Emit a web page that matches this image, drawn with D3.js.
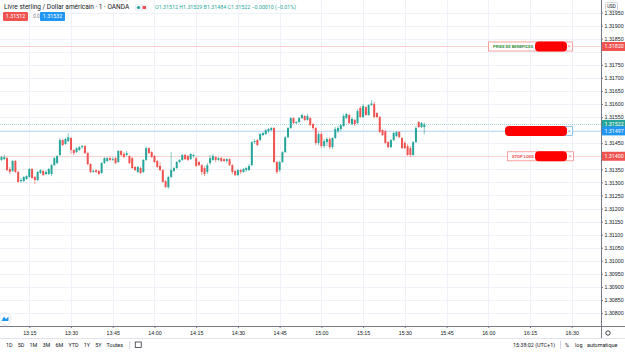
<!DOCTYPE html>
<html>
<head>
<meta charset="utf-8">
<script src="https://cdn.jsdelivr.net/npm/d3@7"></script>
<style>
  body { margin: 0; background: #fff; overflow: hidden; }
  svg { display: block; font-family: Roboto, "Liberation Sans", sans-serif; }
</style>
</head>
<body>
<div id="chart"></div>
<script>
// GBP/USD, 1 minute candles, 13:05 -> 15:37
const firstCandle = "13:05";
const lastCandle = "15:37";

const opens = [1.31386,1.31389,1.31393,1.31351,1.31344,1.31382,1.31340,1.31305,1.31305,1.31313,
  1.31321,1.31351,1.31321,1.31309,1.31336,1.31344,1.31332,1.31332,1.31332,1.31366,
  1.31374,1.31405,1.31462,1.31447,1.31458,1.31470,1.31424,1.31416,1.31424,1.31435,
  1.31439,1.31412,1.31370,1.31340,1.31347,1.31344,1.31336,1.31374,1.31382,1.31393,
  1.31386,1.31393,1.31378,1.31420,1.31409,1.31405,1.31401,1.31393,1.31359,1.31340,
  1.31355,1.31340,1.31386,1.31431,1.31416,1.31401,1.31382,1.31363,1.31347,1.31305,
  1.31282,1.31321,1.31344,1.31355,1.31378,1.31386,1.31405,1.31401,1.31389,1.31401,
  1.31393,1.31378,1.31366,1.31355,1.31340,1.31374,1.31386,1.31397,1.31386,1.31393,
  1.31389,1.31382,1.31389,1.31366,1.31344,1.31328,1.31347,1.31340,1.31347,1.31347,
  1.31366,1.31454,1.31462,1.31462,1.31481,1.31485,1.31496,1.31500,1.31508,1.31378,
  1.31347,1.31378,1.31416,1.31473,1.31508,1.31546,1.31527,1.31531,1.31546,1.31554,
  1.31539,1.31546,1.31523,1.31508,1.31451,1.31485,1.31439,1.31454,1.31466,1.31435,
  1.31470,1.31496,1.31504,1.31516,1.31546,1.31558,1.31523,1.31539,1.31527,1.31585,
  1.31550,1.31588,1.31558,1.31596,1.31600,1.31565,1.31550,1.31500,1.31496,1.31454,
  1.31435,1.31462,1.31477,1.31493,1.31470,1.31451,1.31439,1.31431,1.31405,1.31454,
  1.31531,1.31512,1.31512];
const highs = [1.31401,1.31405,1.31397,1.31359,1.31386,1.31386,1.31344,1.31317,1.31324,1.31328,
  1.31355,1.31355,1.31324,1.31344,1.31351,1.31347,1.31347,1.31355,1.31370,1.31397,
  1.31405,1.31470,1.31466,1.31470,1.31489,1.31473,1.31428,1.31435,1.31439,1.31443,
  1.31443,1.31416,1.31374,1.31351,1.31351,1.31347,1.31378,1.31397,1.31397,1.31397,
  1.31397,1.31397,1.31424,1.31424,1.31416,1.31420,1.31405,1.31397,1.31363,1.31363,
  1.31359,1.31389,1.31439,1.31435,1.31420,1.31405,1.31386,1.31378,1.31351,1.31309,
  1.31324,1.31416,1.31359,1.31382,1.31389,1.31409,1.31409,1.31405,1.31412,1.31409,
  1.31397,1.31382,1.31370,1.31363,1.31374,1.31405,1.31409,1.31401,1.31397,1.31397,
  1.31393,1.31393,1.31393,1.31370,1.31347,1.31351,1.31351,1.31355,1.31359,1.31370,
  1.31458,1.31466,1.31466,1.31489,1.31493,1.31504,1.31508,1.31512,1.31512,1.31382,
  1.31382,1.31420,1.31477,1.31512,1.31550,1.31550,1.31535,1.31550,1.31562,1.31558,
  1.31562,1.31550,1.31527,1.31512,1.31493,1.31493,1.31466,1.31473,1.31473,1.31473,
  1.31512,1.31516,1.31523,1.31562,1.31565,1.31562,1.31550,1.31543,1.31581,1.31592,
  1.31600,1.31592,1.31600,1.31615,1.31608,1.31569,1.31554,1.31504,1.31500,1.31458,
  1.31466,1.31493,1.31496,1.31496,1.31473,1.31458,1.31447,1.31439,1.31458,1.31516,
  1.31535,1.31531,1.31529];
const lows = [1.31382,1.31386,1.31344,1.31332,1.31340,1.31336,1.31298,1.31298,1.31302,1.31309,
  1.31317,1.31313,1.31294,1.31305,1.31332,1.31324,1.31328,1.31328,1.31324,1.31363,
  1.31370,1.31401,1.31439,1.31443,1.31454,1.31409,1.31405,1.31412,1.31420,1.31428,
  1.31409,1.31366,1.31336,1.31336,1.31336,1.31328,1.31332,1.31370,1.31378,1.31382,
  1.31382,1.31370,1.31374,1.31401,1.31393,1.31401,1.31370,1.31351,1.31344,1.31336,
  1.31332,1.31336,1.31382,1.31409,1.31393,1.31374,1.31355,1.31344,1.31298,1.31279,
  1.31275,1.31317,1.31340,1.31351,1.31374,1.31382,1.31386,1.31382,1.31386,1.31393,
  1.31359,1.31363,1.31328,1.31324,1.31332,1.31366,1.31382,1.31378,1.31382,1.31378,
  1.31378,1.31374,1.31363,1.31332,1.31324,1.31324,1.31332,1.31336,1.31340,1.31344,
  1.31363,1.31447,1.31439,1.31458,1.31477,1.31481,1.31489,1.31496,1.31374,1.31332,
  1.31340,1.31374,1.31412,1.31470,1.31504,1.31523,1.31523,1.31527,1.31543,1.31535,
  1.31535,1.31516,1.31500,1.31443,1.31443,1.31431,1.31431,1.31439,1.31428,1.31428,
  1.31466,1.31489,1.31496,1.31512,1.31543,1.31523,1.31519,1.31516,1.31523,1.31546,
  1.31546,1.31554,1.31554,1.31592,1.31546,1.31546,1.31489,1.31477,1.31447,1.31431,
  1.31431,1.31458,1.31473,1.31470,1.31428,1.31428,1.31401,1.31397,1.31401,1.31451,
  1.31508,1.31508,1.31484];
const closes = [1.31397,1.31397,1.31347,1.31340,1.31382,1.31340,1.31302,1.31309,1.31321,1.31324,
  1.31351,1.31317,1.31309,1.31340,1.31347,1.31328,1.31340,1.31351,1.31366,1.31393,
  1.31401,1.31462,1.31443,1.31466,1.31473,1.31424,1.31412,1.31431,1.31435,1.31439,
  1.31412,1.31370,1.31340,1.31344,1.31340,1.31332,1.31374,1.31393,1.31393,1.31386,
  1.31389,1.31374,1.31420,1.31405,1.31397,1.31412,1.31374,1.31355,1.31347,1.31359,
  1.31336,1.31386,1.31431,1.31412,1.31397,1.31378,1.31359,1.31347,1.31302,1.31282,
  1.31321,1.31347,1.31355,1.31378,1.31386,1.31405,1.31389,1.31386,1.31409,1.31405,
  1.31363,1.31366,1.31340,1.31332,1.31366,1.31393,1.31401,1.31386,1.31393,1.31382,
  1.31382,1.31389,1.31366,1.31340,1.31328,1.31347,1.31340,1.31351,1.31355,1.31363,
  1.31454,1.31458,1.31443,1.31485,1.31489,1.31500,1.31504,1.31508,1.31378,1.31340,
  1.31378,1.31416,1.31473,1.31508,1.31546,1.31527,1.31531,1.31546,1.31558,1.31539,
  1.31554,1.31519,1.31508,1.31451,1.31485,1.31439,1.31458,1.31466,1.31435,1.31470,
  1.31504,1.31508,1.31519,1.31554,1.31562,1.31527,1.31543,1.31523,1.31573,1.31550,
  1.31592,1.31558,1.31596,1.31602,1.31550,1.31550,1.31493,1.31481,1.31451,1.31435,
  1.31462,1.31489,1.31493,1.31473,1.31431,1.31431,1.31405,1.31405,1.31454,1.31508,
  1.31512,1.31527,1.31522];

const priceTicks = [1.3080,1.3085,1.3090,1.3095,1.3100,1.3105,1.3110,1.3115,1.3120,1.3125,1.3130,
  1.3135,1.3140,1.3145,1.3150,1.3155,1.3160,1.3165,1.3170,1.3175,1.3180,1.3185,1.3190,1.3195];
const timeTicks = ["13:15","13:30","13:45","14:00","14:15","14:30","14:45","15:00","15:15","15:30",
  "15:45","16:00","16:15","16:30"];

// order / price levels
const takeProfit = 1.31820;
const entryPrice = 1.31497;
const stopLoss = 1.31400;
const lastPrice = 1.31522;
const bidPrice = "1.31512", askPrice = "1.31532", spread = "0.0";
const symbolTitle = "Livre sterling / Dollar américain · 1 · OANDA";
const ohlcLegend = [["O", "1.31512"], ["H", "1.31529"], ["B", "1.31484"], ["C", "1.31522"]];
const changeText = "−0.00010 (−0.01%)";
const rangeButtons = ["1D", "5D", "1M", "3M", "6M", "YTD", "1Y", "5Y", "Toutes"];

const W = 625, H = 352;
const plotRight = 601, plotBottom = 326;
const upColor = "#26a69a", downColor = "#ef5350", gridColor = "#eef1f7", textColor = "#131722";

const parseTime = d3.timeParse("%H:%M");
const times = d3.timeMinute.range(parseTime(firstCandle), d3.timeMinute.offset(parseTime(lastCandle), 1));
const candles = times.map((t, i) => ({ t, o: opens[i], h: highs[i], l: lows[i], c: closes[i] }));

const x = d3.scaleTime()
  .domain([parseTime("13:15"), parseTime("16:30")])
  .range([29.3, 571.7]);
const y = d3.scaleLinear()
  .domain([1.3080, 1.3195])
  .range([313.1, 12.5]);

const svg = d3.select("#chart").append("svg")
  .attr("width", W)
  .attr("height", H);

// grid
const grid = svg.append("g");
grid.selectAll(".vg")
  .data(timeTicks)
  .enter().append("line")
  .attr("x1", d => Math.round(x(parseTime(d))) + 0.5)
  .attr("x2", d => Math.round(x(parseTime(d))) + 0.5)
  .attr("y1", 0)
  .attr("y2", plotBottom)
  .attr("stroke", gridColor);
grid.selectAll(".hg")
  .data(priceTicks)
  .enter().append("line")
  .attr("x1", 0)
  .attr("x2", plotRight)
  .attr("y1", d => Math.round(y(d)) + 0.5)
  .attr("y2", d => Math.round(y(d)) + 0.5)
  .attr("stroke", gridColor);

// order lines
function levelLine(price, color, dash) {
  svg.append("line")
    .attr("x1", 0).attr("x2", plotRight)
    .attr("y1", Math.round(y(price)) + 0.5)
    .attr("y2", Math.round(y(price)) + 0.5)
    .attr("stroke", color)
    .attr("stroke-dasharray", dash || null);
}
levelLine(takeProfit, "#f9d3d2");
levelLine(lastPrice, "#a6ddd7", "1,1");
levelLine(entryPrice, "#c3def8");
levelLine(stopLoss, "#f9d3d2");

// candles
const cw = 2;
const cg = svg.append("g");
cg.selectAll(".wick")
  .data(candles)
  .enter().append("line")
  .attr("x1", d => x(d.t))
  .attr("x2", d => x(d.t))
  .attr("y1", d => y(d.h))
  .attr("y2", d => y(d.l))
  .attr("stroke", d => d.c >= d.o ? upColor : downColor)
  .attr("stroke-width", 0.8)
  .attr("opacity", 0.7);
cg.selectAll(".body")
  .data(candles)
  .enter().append("rect")
  .attr("x", d => x(d.t) - cw / 2)
  .attr("width", cw)
  .attr("y", d => y(Math.max(d.o, d.c)))
  .attr("height", d => Math.max(0.8, Math.abs(y(d.o) - y(d.c))))
  .attr("fill", d => d.c >= d.o ? upColor : downColor);

// order boxes
function orderBox(price, x0, x1, label, labelColor, borderColor, blobX0) {
  const yc = y(price);
  svg.append("rect")
    .attr("x", x0 + 0.5).attr("y", yc - 4.5)
    .attr("width", x1 - x0).attr("height", 9)
    .attr("fill", "#fff").attr("stroke", borderColor).attr("stroke-width", 0.8);
  if (label) {
    svg.append("text")
      .attr("x", x0 + 5).attr("y", yc + 1.6)
      .attr("font-size", 4.2).attr("font-weight", "bold")
      .attr("fill", labelColor)
      .text(label);
  }
  svg.append("rect")
    .attr("x", blobX0).attr("y", yc - 5)
    .attr("width", 567 - blobX0).attr("height", 10)
    .attr("rx", 4)
    .attr("fill", "#ff0000");
  svg.append("text")
    .attr("x", x1 - 3).attr("y", yc + 2)
    .attr("font-size", 6).attr("text-anchor", "middle")
    .attr("fill", borderColor)
    .text("×");
}
orderBox(takeProfit, 488, 572, "PRISE DE BENEFICES", "#388e3c", "#f28b8a", 535);
orderBox(entryPrice, 558, 572, null, "#2196f3", "#7fb8ee", 505);
orderBox(stopLoss, 507, 573, "STOP LOSS", "#ef5350", "#f28b8a", 535);

// price axis
const yAxis = svg.append("g")
  .attr("transform", `translate(${plotRight},0)`)
  .call(d3.axisRight(y)
    .tickValues(priceTicks.filter(v => ![1.3180, 1.3150, 1.3140].includes(v)))
    .tickFormat(d3.format(".5f"))
    .tickSize(2));
yAxis.select(".domain").remove();
yAxis.selectAll("line").attr("stroke", "#787b86");
yAxis.selectAll("text")
  .attr("x", 3.5)
  .style("font-size", "5.3px")
  .style("fill", textColor);
svg.append("line")
  .attr("x1", plotRight + 0.5).attr("x2", plotRight + 0.5)
  .attr("y1", 0).attr("y2", H - 14)
  .attr("stroke", "#787b86");

// colored price labels
function priceTag(price, color) {
  const yc = y(price);
  svg.append("rect")
    .attr("x", plotRight + 1).attr("y", yc - 4.5)
    .attr("width", W - plotRight - 1).attr("height", 9)
    .attr("fill", color);
  svg.append("text")
    .attr("x", plotRight + 3.5).attr("y", yc + 1.9)
    .attr("font-size", 5.3).attr("fill", "#fff")
    .text(d3.format(".5f")(price));
}
priceTag(takeProfit, "#ef5350");
priceTag(lastPrice, "#26a69a");
priceTag(entryPrice, "#2196f3");
priceTag(stopLoss, "#ef5350");

// USD box
svg.append("rect").attr("x", 605.5).attr("y", 2.5).attr("width", 12).attr("height", 8)
  .attr("fill", "#fff").attr("stroke", "#d1d4dc").attr("rx", 1);
svg.append("text").attr("x", 611.5).attr("y", 8.3).attr("text-anchor", "middle")
  .attr("font-size", 4.6).attr("fill", textColor).text("USD");

// time axis
const xAxis = svg.append("g")
  .attr("transform", `translate(0,${plotBottom})`)
  .call(d3.axisBottom(x)
    .tickValues(timeTicks.map(parseTime))
    .tickFormat(d3.timeFormat("%H:%M"))
    .tickSize(2));
xAxis.select(".domain").remove();
xAxis.selectAll("line").attr("stroke", "#787b86");
xAxis.selectAll("text")
  .attr("y", 5)
  .style("font-size", "5.3px")
  .style("fill", textColor);
svg.append("line")
  .attr("x1", 0).attr("x2", W)
  .attr("y1", plotBottom + 0.5).attr("y2", plotBottom + 0.5)
  .attr("stroke", "#787b86");
svg.append("line")
  .attr("x1", 0).attr("x2", W)
  .attr("y1", H - 13.5).attr("y2", H - 13.5)
  .attr("stroke", "#e0e3eb");

// legend
svg.append("text")
  .attr("x", 4).attr("y", 9)
  .attr("font-size", 6.5).attr("fill", textColor)
  .text(symbolTitle);
svg.append("rect").attr("x", 134).attr("y", 4).attr("width", 15).attr("height", 7).attr("rx", 3.5)
  .attr("fill", "#f0f3fa");
svg.append("circle").attr("cx", 138.5).attr("cy", 7.5).attr("r", 1.6).attr("fill", upColor);
svg.append("rect").attr("x", 142.5).attr("y", 6).attr("width", 3.5).attr("height", 3).attr("fill", downColor);

const legend = svg.append("text")
  .attr("x", 155).attr("y", 9)
  .attr("font-size", 5.3);
ohlcLegend.forEach(([k, v]) => {
  legend.append("tspan").attr("fill", upColor).text(k);
  legend.append("tspan").attr("fill", upColor).text(v + " ");
});
legend.append("tspan").attr("fill", upColor).text(changeText);

// bid / ask
svg.append("rect").attr("x", 3).attr("y", 12).attr("width", 25).attr("height", 9).attr("rx", 1).attr("fill", "#ef5350");
svg.append("text").attr("x", 15.5).attr("y", 18.3).attr("text-anchor", "middle")
  .attr("font-size", 5.3).attr("fill", "#fff").text(bidPrice);
svg.append("text").attr("x", 36.5).attr("y", 18.3).attr("text-anchor", "middle")
  .attr("font-size", 4.6).attr("fill", "#787b86").text(spread);
svg.append("rect").attr("x", 40).attr("y", 12).attr("width", 25).attr("height", 9).attr("rx", 1).attr("fill", "#2196f3");
svg.append("text").attr("x", 52.5).attr("y", 18.3).attr("text-anchor", "middle")
  .attr("font-size", 5.3).attr("fill", "#fff").text(askPrice);

// bottom toolbar
let bx = 6;
rangeButtons.forEach(b => {
  const t = svg.append("text").attr("x", bx).attr("y", 346.5)
    .attr("font-size", 5.4).attr("fill", textColor).text(b);
  bx += t.node().getComputedTextLength() + 5.2;
});
svg.append("line").attr("x1", bx + 1.5).attr("x2", bx + 1.5).attr("y1", 341).attr("y2", 349).attr("stroke", "#d1d4dc");
svg.append("rect").attr("x", bx + 7).attr("y", 342).attr("width", 6).attr("height", 5.5)
  .attr("fill", "none").attr("stroke", "#131722").attr("stroke-width", 0.7);

svg.append("text").attr("x", 513).attr("y", 346.5)
  .attr("font-size", 5.4).attr("fill", textColor).text("15:38:02 (UTC+1)");
svg.append("line").attr("x1", 560.5).attr("x2", 560.5).attr("y1", 341).attr("y2", 349).attr("stroke", "#d1d4dc");
svg.append("text").attr("x", 565).attr("y", 346.5)
  .attr("font-size", 5.4).attr("fill", textColor).text("%");
svg.append("text").attr("x", 575).attr("y", 346.5)
  .attr("font-size", 5.4).attr("fill", textColor).text("log");
svg.append("text").attr("x", 587).attr("y", 346.5)
  .attr("font-size", 5.4).attr("fill", textColor).text("automatique");

// gear icon on the axis corner
svg.append("circle").attr("cx", 608).attr("cy", 333).attr("r", 2.2)
  .attr("fill", "none").attr("stroke", "#131722").attr("stroke-width", 0.8);

// tv logo
svg.append("circle").attr("cx", 5).attr("cy", 319).attr("r", 6)
  .attr("fill", "#fff").attr("stroke", "#e0e3eb");
svg.append("path").attr("d", "M1.5 321 L4 316.5 L6 319 L8.5 316.5 L8.5 321 Z").attr("fill", "#2196f3");
</script>
</body>
</html>
